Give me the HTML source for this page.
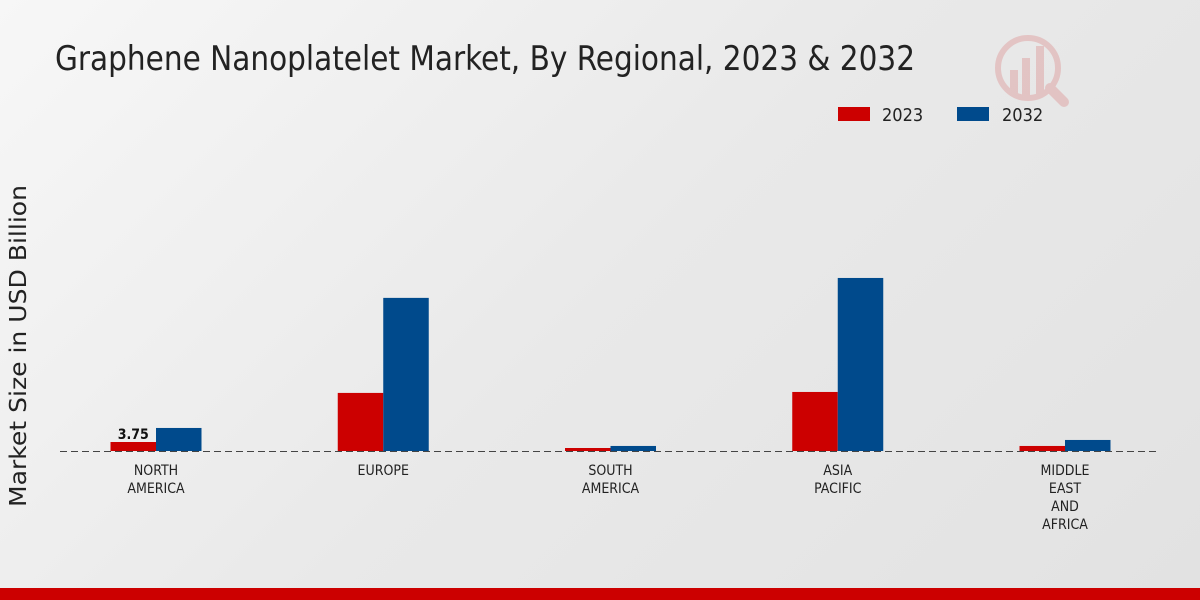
<!DOCTYPE html>
<html><head><meta charset="utf-8"><style>
html,body{margin:0;padding:0;}
body{width:1200px;height:600px;overflow:hidden;background:linear-gradient(135deg,#f7f7f7 0%,#e9e9e9 50%,#e2e2e2 100%);font-family:"DejaVu Sans Condensed","DejaVu Sans","Liberation Sans",sans-serif;position:relative;}
</style></head><body>
<svg id="chart" width="1200" height="600" xmlns="http://www.w3.org/2000/svg" style="position:absolute;left:0;top:0">
<text x="55" y="70" font-size="34" fill="#222" textLength="860" lengthAdjust="spacingAndGlyphs" font-family="DejaVu Sans Condensed, DejaVu Sans, sans-serif">Graphene Nanoplatelet Market, By Regional, 2023 &amp; 2032</text>
<g opacity="0.15">
<circle cx="1028" cy="68" r="30" fill="none" stroke="#c00" stroke-width="6"/>
<rect x="1010" y="70" width="8" height="25" fill="#c00"/>
<rect x="1022" y="58" width="8" height="37" fill="#c00"/>
<rect x="1036" y="46" width="8" height="49" fill="#c00"/>
<line x1="1050" y1="88" x2="1064" y2="102" stroke="#c00" stroke-width="10" stroke-linecap="round"/>
</g>
<g>
<rect x="838" y="107" width="32" height="14" fill="#cc0000"/>
<text x="882" y="121" font-size="18" fill="#222">2023</text>
<rect x="957" y="107" width="32" height="14" fill="#004a8c"/>
<text x="1002" y="121" font-size="18" fill="#222">2032</text>
</g>
<text transform="translate(26,346) rotate(-90)" text-anchor="middle" font-size="23" fill="#222" textLength="322" lengthAdjust="spacingAndGlyphs" font-family="DejaVu Sans, sans-serif">Market Size in USD Billion</text>
<g id="bars"></g>
<line x1="60" y1="451.5" x2="1160" y2="451.5" stroke="#444" stroke-width="1" stroke-dasharray="7,4"/>
<g id="labels"></g>
<rect x="0" y="588" width="1200" height="12" fill="#cc0000"/>
</svg>
<script>
const categories = [["NORTH","AMERICA"],["EUROPE"],["SOUTH","AMERICA"],["ASIA","PACIFIC"],["MIDDLE","EAST","AND","AFRICA"]];
const values2023 = [3.75, 24.2, 1.25, 24.6, 2.1];
const values2032 = [9.6, 63.8, 2.1, 72.1, 4.6];
const valueLabels = ["3.75", "", "", "", ""];
const NS="http://www.w3.org/2000/svg";
const baseY=451, pxPerUnit=2.4, x0=156, step=227.25, bw=45.5;
function yScale(v){return baseY - v*pxPerUnit;}
function xCenter(i){return x0 + i*step;}
const bars=document.getElementById('bars'), labels=document.getElementById('labels');
categories.forEach((cat,i)=>{
  const cx=xCenter(i);
  const r1=document.createElementNS(NS,'rect');
  r1.setAttribute('x',cx-bw);r1.setAttribute('y',yScale(values2023[i]));
  r1.setAttribute('width',bw);r1.setAttribute('height',baseY-yScale(values2023[i]));
  r1.setAttribute('fill','#cc0000');
  
  
  bars.appendChild(r1);
  const r2=document.createElementNS(NS,'rect');
  r2.setAttribute('x',cx);r2.setAttribute('y',yScale(values2032[i]));
  r2.setAttribute('width',bw);r2.setAttribute('height',baseY-yScale(values2032[i]));
  r2.setAttribute('fill','#004a8c');
  
  
  bars.appendChild(r2);
  if(valueLabels[i]){
    const t=document.createElementNS(NS,'text');
    t.setAttribute('x',cx-bw/2);t.setAttribute('y',yScale(values2023[i])-3);
    t.setAttribute('text-anchor','middle');t.setAttribute('font-size','14');t.setAttribute('font-weight','bold');t.setAttribute('fill','#111');
    t.textContent=valueLabels[i];
    
    
    bars.appendChild(t);
  }
  cat.forEach((line,j)=>{
    const t=document.createElementNS(NS,'text');
    t.setAttribute('x',cx);t.setAttribute('y',475+j*18);
    t.setAttribute('text-anchor','middle');t.setAttribute('font-size','14');t.setAttribute('fill','#222');
    t.textContent=line;
    
    
    labels.appendChild(t);
  });
});
</script>
</body></html>
